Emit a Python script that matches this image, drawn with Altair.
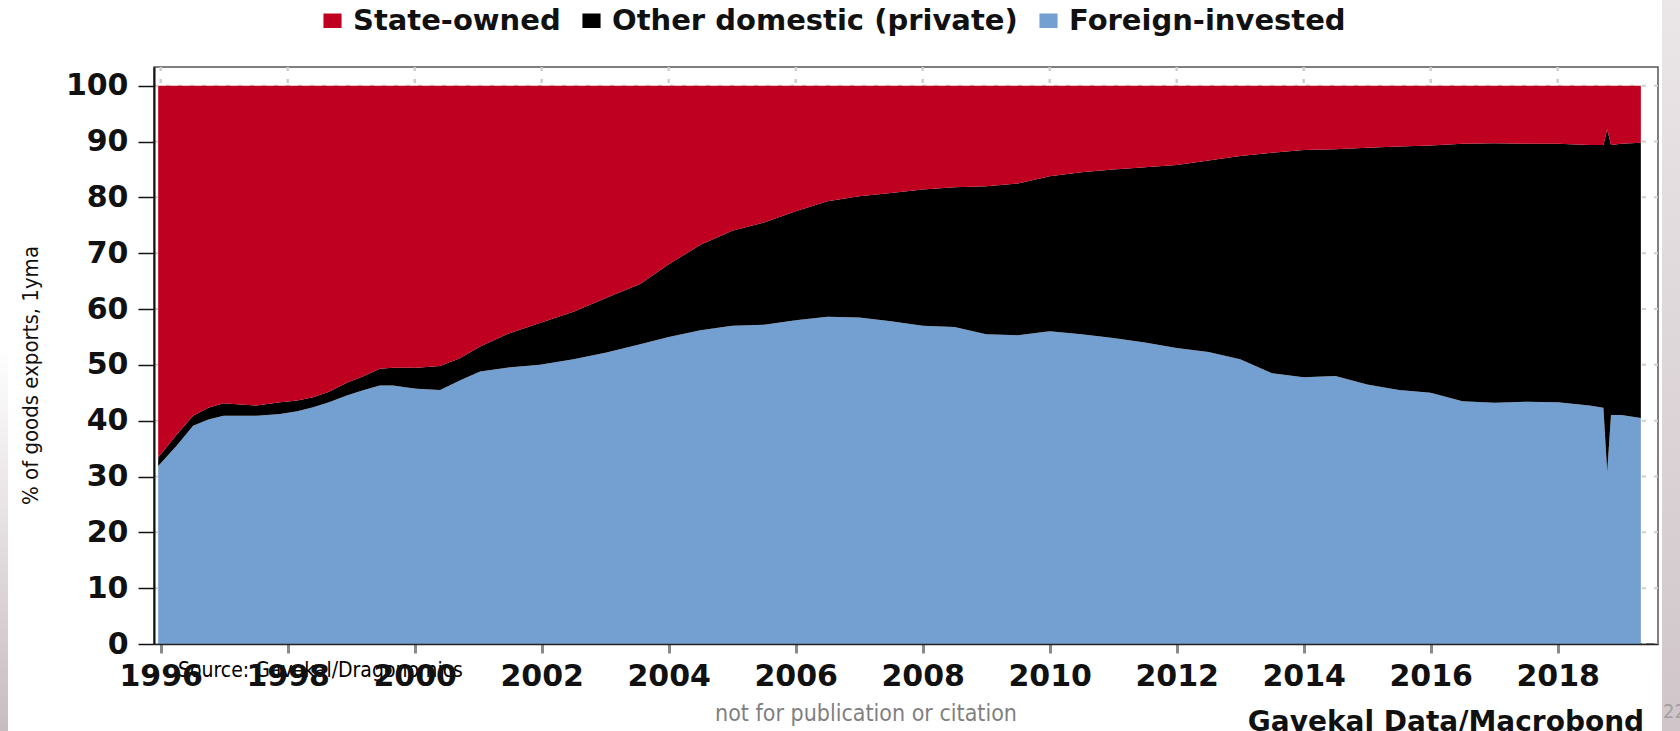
import altair as alt
import pandas as pd

# ---- data ----
years = [1995.96, 1996.25, 1996.51, 1996.75, 1996.99, 1997.25, 1997.51, 1997.88, 1998.15, 1998.40,
         1998.65, 1998.93, 1999.2, 1999.45, 1999.66, 1999.85, 2000.03, 2000.4, 2000.71, 2001.03,
         2001.45, 2001.97, 2002.5, 2003.02, 2003.55, 2004.0, 2004.5, 2005.0, 2005.5, 2006.0,
         2006.5, 2007.0, 2007.5, 2008.0, 2008.5, 2009.0, 2009.5, 2010.0, 2010.5, 2011.0,
         2011.5, 2012.0, 2012.5, 2013.0, 2013.5, 2014.0, 2014.5, 2015.0, 2015.5, 2016.0,
         2016.5, 2017.0, 2017.5, 2018.0, 2018.5, 2018.72, 2018.78, 2018.84, 2019.0, 2019.31]

# top of the foreign-invested (blue) band, % of goods exports
foreign = [31.9, 35.5, 39.1, 40.2, 40.9, 40.9, 40.9, 41.2, 41.7, 42.4,
           43.3, 44.5, 45.5, 46.3, 46.3, 46.0, 45.7, 45.5, 47.2, 48.8,
           49.5, 50.0, 51.0, 52.2, 53.7, 55.0, 56.2, 57.0, 57.2, 58.0,
           58.6, 58.5, 57.8, 57.0, 56.8, 55.5, 55.3, 56.0, 55.5, 54.8,
           54.0, 53.0, 52.3, 51.0, 48.5, 47.8, 48.0, 46.5, 45.5, 45.0,
           43.5, 43.2, 43.4, 43.3, 42.7, 42.3, 30.8, 41.0, 41.0, 40.5]

# top of the other domestic (private, black) band = foreign + private
private_top = [33.4, 37.5, 40.9, 42.3, 43.1, 42.9, 42.7, 43.3, 43.6, 44.2,
               45.2, 46.8, 48.0, 49.3, 49.5, 49.5, 49.5, 49.8, 51.2, 53.3,
               55.5, 57.5, 59.5, 62.0, 64.5, 68.0, 71.5, 74.0, 75.5, 77.5,
               79.3, 80.2, 80.8, 81.4, 81.8, 82.0, 82.5, 83.8, 84.5, 85.0,
               85.4, 85.8, 86.6, 87.4, 88.0, 88.5, 88.6, 88.9, 89.1, 89.3,
               89.6, 89.7, 89.6, 89.6, 89.4, 89.4, 92.2, 89.4, 89.6, 89.8]

series_names = ["State-owned", "Other domestic (private)", "Foreign-invested"]
series_colors = ["#c00020", "#000000", "#74a0d1"]

x_ticks = [1996, 1998, 2000, 2002, 2004, 2006, 2008, 2010, 2012, 2014, 2016, 2018]
y_ticks = [0, 10, 20, 30, 40, 50, 60, 70, 80, 90, 100]

# ---- build long table ----
rows = []
for yr, f, p in zip(years, foreign, private_top):
    rows.append({"year": yr, "series": "Foreign-invested", "lower": 0.0, "upper": f})
    rows.append({"year": yr, "series": "Other domestic (private)", "lower": f, "upper": p})
    rows.append({"year": yr, "series": "State-owned", "lower": p, "upper": 100.0})
df = pd.DataFrame(rows)

NARROW = "Liberation Sans Narrow, DejaVu Sans Condensed, sans-serif"

xscale = alt.Scale(domain=[1995.894, 2019.58], nice=False, zero=False)
yscale = alt.Scale(domain=[0, 103.35], nice=False, zero=True)

xaxis = alt.Axis(values=x_ticks, format="d", grid=False, title=None,
                 domainColor="#222222", domainWidth=1.5,
                 tickColor="#8a8a8a", tickWidth=3, tickSize=9,
                 labelFont="DejaVu Sans", labelFontSize=30, labelFontWeight="bold",
                 labelColor="#111111", labelPadding=8, labelOverlap=False,
                 labelFlush=False, zindex=1)
yaxis = alt.Axis(values=y_ticks, grid=False,
                 domainColor="#111111", domainWidth=2,
                 tickColor="#111111", tickWidth=1.5, tickSize=16,
                 labelFont="DejaVu Sans", labelFontSize=30, labelFontWeight="bold",
                 labelColor="#111111", labelPadding=10,
                 title="% of goods exports, 1yma",
                 titleFont=NARROW,
                 titleFontSize=22, titleFontWeight="normal", titleColor="#111111",
                 titleX=-124, titleY=308, titleAngle=270, titleBaseline="middle",
                 titleAlign="center", zindex=1)

xgrid = alt.Chart(pd.DataFrame({"year": x_ticks})).mark_rule(
    color="#cfcfcf", strokeWidth=2.5, strokeDash=[4, 8]
).encode(x=alt.X("year:Q", scale=xscale, axis=xaxis))

ygrid = alt.Chart(pd.DataFrame({"lower": y_ticks})).mark_rule(
    color="#cfcfcf", strokeWidth=2, strokeDash=[4, 8]
).encode(y=alt.Y("lower:Q", scale=yscale, axis=yaxis))

areas = alt.Chart(df).mark_area(interpolate="linear").encode(
    x=alt.X("year:Q", scale=xscale, axis=xaxis),
    y=alt.Y("lower:Q", scale=yscale, axis=yaxis),
    y2="upper:Q",
    color=alt.Color(
        "series:N",
        scale=alt.Scale(domain=series_names, range=series_colors),
        legend=alt.Legend(
            orient="none", legendX=164, legendY=-61, direction="horizontal",
            title=None, symbolType="M-1.25,-1H1.25V1H-1.25Z", symbolSize=210,
            symbolStrokeWidth=0, symbolOpacity=1,
            labelFont="DejaVu Sans", labelFontSize=29, labelFontWeight="bold",
            labelColor="#111111", labelLimit=1000, labelOffset=6,
            columnPadding=16, padding=0, offset=0,
        ),
    ),
    order=alt.Order("series:N"),
)

# slide decorations (edge shading)
right_strip = alt.Chart(pd.DataFrame({"k": [0]})).mark_rect(
    color=alt.Gradient(gradient="linear", x1=0, y1=0, x2=0, y2=1,
                       stops=[alt.GradientStop(color="#ebe6e8", offset=0),
                              alt.GradientStop(color="#d0c6ca", offset=1)])
).encode(x=alt.value(1508), x2=alt.value(1530), y=alt.value(-67), y2=alt.value(664))

left_strip = alt.Chart(pd.DataFrame({"k": [0]})).mark_rect(
    color=alt.Gradient(gradient="linear", x1=0, y1=0, x2=0, y2=1,
                       stops=[alt.GradientStop(color="#ffffff", offset=0),
                              alt.GradientStop(color="#c8bcc1", offset=1)])
).encode(x=alt.value(-154), x2=alt.value(-146), y=alt.value(280), y2=alt.value(664))

source_txt = alt.Chart(pd.DataFrame({"t": ["Source: Gavekal/Dragonomics"]})).mark_text(
    align="left", baseline="middle", font=NARROW,
    fontSize=21, color="#000000"
).encode(text="t:N", x=alt.value(24), y=alt.value(604))

notpub_txt = alt.Chart(pd.DataFrame({"t": ["not for publication or citation"]})).mark_text(
    align="center", baseline="middle", font=NARROW,
    fontSize=23, color="#7f7f7f"
).encode(text="t:N", x=alt.value(712), y=alt.value(647))

brand_txt = alt.Chart(pd.DataFrame({"t": ["Gavekal Data/Macrobond"]})).mark_text(
    align="center", baseline="alphabetic", font="DejaVu Sans", fontWeight="bold",
    fontSize=28, color="#111111"
).encode(text="t:N", x=alt.value(1292), y=alt.value(664))

page_txt = alt.Chart(pd.DataFrame({"t": ["22"]})).mark_text(
    align="left", baseline="middle", font=NARROW,
    fontSize=20, color="#a0a0a0"
).encode(text="t:N", x=alt.value(1509), y=alt.value(645))

chart = alt.layer(
    xgrid, ygrid, areas, right_strip, left_strip,
    source_txt, notpub_txt, brand_txt, page_txt
).properties(
    width=1504, height=577,
    padding={"left": 154, "top": 67, "right": 22, "bottom": 87},
    autosize=alt.AutoSizeParams(type="none"),
    background="#ffffff",
).configure_view(
    stroke="#555555", strokeWidth=1.5
)

chart.save("out.html", embed_options={"renderer": "svg", "actions": False})
